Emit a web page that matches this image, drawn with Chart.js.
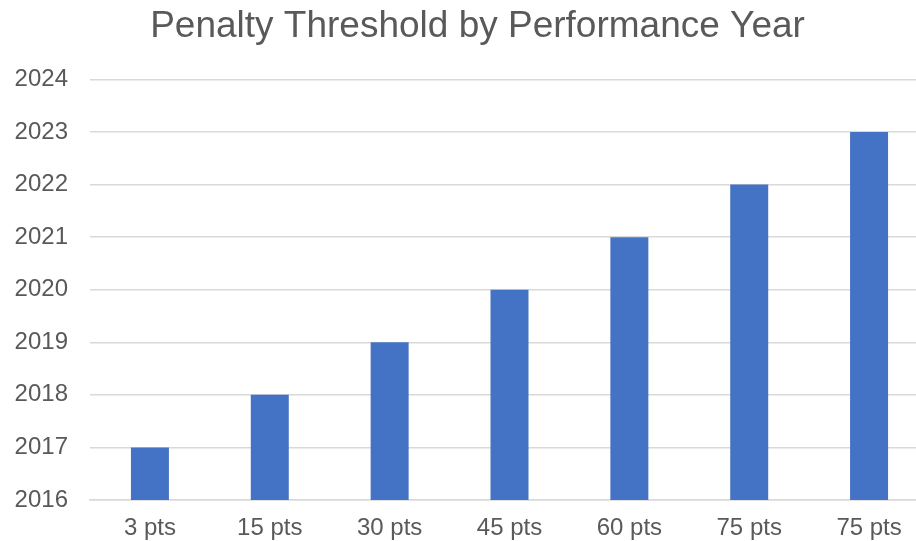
<!DOCTYPE html>
<html>
<head>
<meta charset="utf-8">
<script src="https://cdn.jsdelivr.net/npm/chart.js@4"></script>
<style>
  html, body { margin: 0; padding: 0; background: #fff; overflow: hidden; }
  #clip { width: 916px; height: 541px; overflow: hidden; position: relative; }
  /* the original plot runs past the right edge, so the canvas is wider than the view */
  #wrap { width: 966px; height: 541px; }
</style>
</head>
<body>
<div id="clip"><div id="wrap"><canvas id="chart"></canvas></div></div>
<script>
// penalty threshold chart
const categories = ["3 pts", "15 pts", "30 pts", "45 pts", "60 pts", "75 pts", "75 pts"];
const years = [2017, 2018, 2019, 2020, 2021, 2022, 2023];
const yMin = 2016;
const yMax = 2024;

const grey = "#595959";

// nudge the title a little to the right, as in the original
const titleNudge = {
  id: "titleNudge",
  afterLayout(chart) {
    if (chart.titleBlock) chart.titleBlock.left += 12;
  }
};

new Chart(document.getElementById("chart"), {
  type: "bar",
  data: {
    labels: categories,
    datasets: [{
      label: "Performance Year",
      data: years,
      backgroundColor: "#4472C4",
      categoryPercentage: 1,
      barPercentage: 0.317
    }]
  },
  options: {
    responsive: true,
    maintainAspectRatio: false,
    animation: false,
    layout: { padding: { left: 14, right: 37, top: 0, bottom: 0 } },
    plugins: {
      legend: { display: false },
      tooltip: { enabled: false },
      title: {
        display: true,
        text: "Penalty Threshold by Performance Year",
        color: grey,
        font: { family: "Liberation Sans", size: 37, weight: "normal" },
        padding: { top: 5, bottom: 30 }
      }
    },
    scales: {
      x: {
        grid: { display: false, drawTicks: false },
        border: { color: "#d9d9d9", width: 1.5 },
        ticks: {
          color: grey,
          font: { family: "Liberation Sans", size: 24 },
          padding: 14
        },
        afterFit: s => { s.height = 41; }
      },
      y: {
        min: yMin,
        max: yMax,
        grid: { color: "#d9d9d9", lineWidth: 1.5, drawTicks: false },
        border: { display: false },
        ticks: {
          stepSize: 1,
          color: grey,
          font: { family: "Liberation Sans", size: 24 },
          padding: 22,
          callback: v => String(v)
        },
        afterFit: s => { s.width = 76; }
      }
    }
  },
  plugins: [titleNudge]
});
</script>
</body>
</html>
